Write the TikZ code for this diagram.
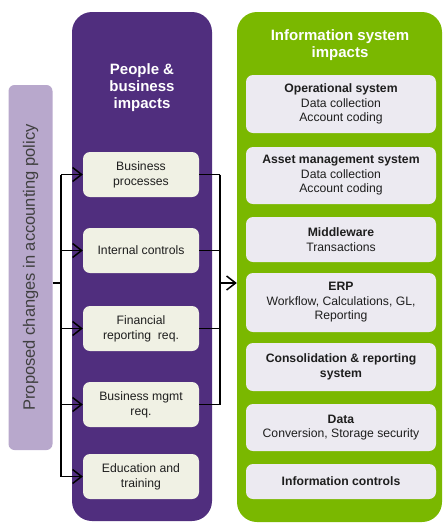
\documentclass[tikz,border=0pt]{standalone}
\usepackage{fontspec}
\setmainfont{Liberation Sans}
\usepackage{tikz}
\usetikzlibrary{
	arrows.meta,
	positioning,
	calc
}
\usepackage{xcolor}

\definecolor{peoplepurple}{RGB}{80,46,126}
\definecolor{infogreen}{RGB}{122,184,0}
\definecolor{policylilac}{RGB}{184,168,204}
\definecolor{boxcream}{RGB}{240,241,228}
\definecolor{boxlavender}{RGB}{236,234,241}
\definecolor{inktext}{RGB}{30,30,30}

\tikzset{
	panel/.style={rounded corners=20pt, draw=none, inner sep=0pt},
	paneltitle/.style={text=white, align=center, font=\bfseries\fontsize{15}{17}\selectfont},
	peoplebox/.style={fill=boxcream, rounded corners=7pt, minimum width=116pt,
		minimum height=45pt, align=center, text=inktext, inner sep=2pt,
		font=\fontsize{12.2}{15}\selectfont},
	sysbox/.style={fill=boxlavender, rounded corners=7pt, minimum width=190pt,
		align=center, text=inktext, inner sep=2pt,
		font=\fontsize{12.2}{14.5}\selectfont},
	link/.style={line width=1.5pt},
	arrowlink/.style={link, -{Straight Barb[length=9pt,width=14pt]}}
}

\begin{document}
\begin{tikzpicture}[x=1pt,y=-1pt]
		
		\useasboundingbox (0,0) rectangle (444,523);
		
		% panels
		\node[panel, fill=peoplepurple, minimum width=140pt, minimum height=509pt] (peoplepanel) at (142,266.5) {};
		\node[panel, fill=infogreen, minimum width=205pt, minimum height=510pt] (infopanel) at (339.5,267) {};
		\node[rotate=90, fill=policylilac, rounded corners=6pt, minimum width=365pt, minimum height=44pt,
			text=inktext!85, font=\fontsize{16.5}{18}\selectfont] (policy) at (30.5,267.5) {Proposed changes in accounting policy};
		
		\node[paneltitle] (peopletitle) at (142,88) {People \&\\business\\impacts};
		\node[paneltitle] (infotitle) at (340,45) {Information system\\impacts};
		
		% people & business boxes
		\node[peoplebox] (p1) at (141,174.5) {Business\\processes};
		\node[peoplebox] (p2) at (141,250.5) {Internal controls};
		\node[peoplebox] (p3) at (141,328.5) {Financial\\reporting\ \ req.};
		\node[peoplebox] (p4) at (141,404.5) {Business mgmt\\req.};
		\node[peoplebox] (p5) at (141,476.5) {Education and\\training};
		
		% information system boxes
		\node[sysbox, minimum height=58pt] (s1) at (341,104) {\textbf{Operational system}\\Data collection\\Account coding};
		\node[sysbox, minimum height=57pt] (s2) at (341,175.5) {\textbf{Asset management system}\\Data collection\\Account coding};
		\node[sysbox, minimum height=45pt] (s3) at (341,239.5) {\textbf{Middleware}\\Transactions};
		\node[sysbox, minimum height=59pt] (s4) at (341,302.5) {\textbf{ERP}\\Workflow, Calculations, GL,\\Reporting};
		\node[sysbox, minimum height=48pt] (s5) at (341,367) {\textbf{Consolidation \& reporting}\\\textbf{system}};
		\node[sysbox, minimum height=47pt] (s6) at (341,427.5) {\textbf{Data}\\Conversion, Storage security};
		\node[sysbox, minimum height=35pt] (s7) at (341,481.5) {\textbf{Information controls}};
		
		% fan out from the policy bar
		\coordinate (split) at (61,283);
		\draw[link] (policy.south |- split) -- (split);
		\draw[link] (split |- p1.west) -- (split |- p5.west);
		\foreach \i in {1,...,5}
		\draw[arrowlink] (split |- p\i.west) -- (p\i.west);
		
		% merge into the information system panel
		\coordinate (merge) at (220,283);
		\foreach \i in {1,...,4}
		\draw[link] (p\i.east) -- (p\i.east -| merge);
		\draw[link] (merge |- p1.east) -- (merge |- p4.east);
		\draw[arrowlink] (merge) -- (merge -| infopanel.west);
		
	\end{tikzpicture}
\end{document}
